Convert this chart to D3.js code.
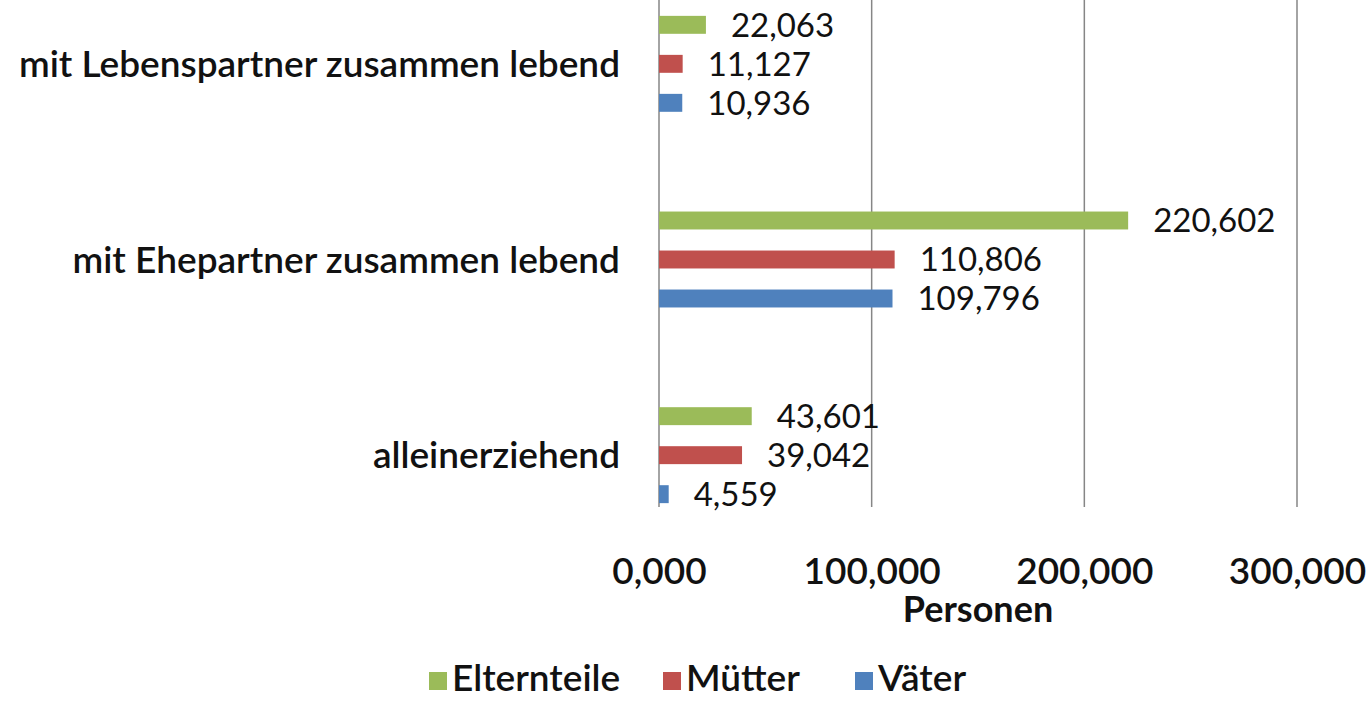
<!DOCTYPE html>
<meta charset="utf-8">
<head>
<style>
  body { margin: 0; background: #fff; }
  svg { font-family: Lato, "Open Sans", sans-serif; }
  .grid line { stroke: #868686; stroke-width: 1.5px; }
  .cat { font-size: 37px; font-weight: 600; fill: #111; }
  .val { font-size: 33px; fill: #111; }
  .xaxis text { font-family: Lato, "Open Sans", sans-serif; font-size: 37px; font-weight: 600; fill: #111; }
  .xaxis path { display: none; }
  .title { font-size: 36px; font-weight: 700; fill: #111; }
  .legend text { font-size: 37px; font-weight: 600; fill: #111; }
</style>
</head>
<body>
<script src="https://d3js.org/d3.v7.min.js"></script>
<script>
// data
var categories = ["mit Lebenspartner zusammen lebend", "mit Ehepartner zusammen lebend", "alleinerziehend"];
var series = ["Elternteile", "Mütter", "Väter"];
var elternteile = [22063, 220602, 43601];
var muetter = [11127, 110806, 39042];
var vaeter = [10936, 109796, 4559];
var tickValues = [0, 100000, 200000, 300000];
var tickLabels = ["0,000", "100,000", "200,000", "300,000"];

var values = { "Elternteile": elternteile, "Mütter": muetter, "Väter": vaeter };
var colors = { "Elternteile": "#9bbb59", "Mütter": "#c0504d", "Väter": "#4f81bd" };

var width = 1371, height = 701;
var plotBottom = 507;

var svg = d3.select("body").append("svg")
    .attr("width", width)
    .attr("height", height);

// scales
var x = d3.scaleLinear().domain([0, 300000]).range([659, 1297]);
var y = d3.scaleBand().domain(categories).range([-34, 553]);
var inner = d3.scaleBand().domain(series).range([-58.5, 58.5])
    .paddingInner(0.54).paddingOuter(0.27);

// gridlines
svg.append("g").attr("class", "grid")
  .selectAll("line")
  .data(tickValues)
  .join("line")
    .attr("x1", function(d) { return x(d); })
    .attr("x2", function(d) { return x(d); })
    .attr("y1", 0)
    .attr("y2", plotBottom);

// bars and labels
categories.forEach(function(cat, i) {
    var cy = y(cat) + y.bandwidth() / 2;
    var g = svg.append("g").attr("transform", "translate(0," + cy + ")");

    g.selectAll("rect")
      .data(series)
      .join("rect")
        .attr("x", x(0))
        .attr("y", function(s) { return inner(s); })
        .attr("width", function(s) { return x(values[s][i]) - x(0); })
        .attr("height", inner.bandwidth())
        .attr("fill", function(s) { return colors[s]; });

    g.selectAll("text.val")
      .data(series)
      .join("text")
        .attr("class", "val")
        .attr("x", function(s) { return x(values[s][i]) + 25; })
        .attr("y", function(s) { return inner(s) + inner.bandwidth() / 2; })
        .attr("dy", "0.36em")
        .text(function(s) { return d3.format(",")(values[s][i]); });

    svg.append("text")
        .attr("class", "cat")
        .attr("x", 620)
        .attr("y", cy)
        .attr("dy", "0.36em")
        .attr("text-anchor", "end")
        .text(cat);
});

// x axis labels
svg.append("g")
    .attr("class", "xaxis")
    .attr("transform", "translate(0,555)")
    .call(d3.axisBottom(x).tickValues(tickValues).tickSize(0)
        .tickFormat(function(d, i) { return tickLabels[i]; }));

svg.append("text")
    .attr("class", "title")
    .attr("x", (x(0) + x(300000)) / 2)
    .attr("y", 622)
    .attr("text-anchor", "middle")
    .text("Personen");

// legend
var legendX = [429, 663, 855];
var legend = svg.append("g").attr("class", "legend");
series.forEach(function(s, i) {
    legend.append("rect")
        .attr("x", legendX[i])
        .attr("y", 672)
        .attr("width", 18)
        .attr("height", 18)
        .attr("fill", colors[s]);
    legend.append("text")
        .attr("x", legendX[i] + 23)
        .attr("y", 691)
        .text(s);
});
</script>
</body>
